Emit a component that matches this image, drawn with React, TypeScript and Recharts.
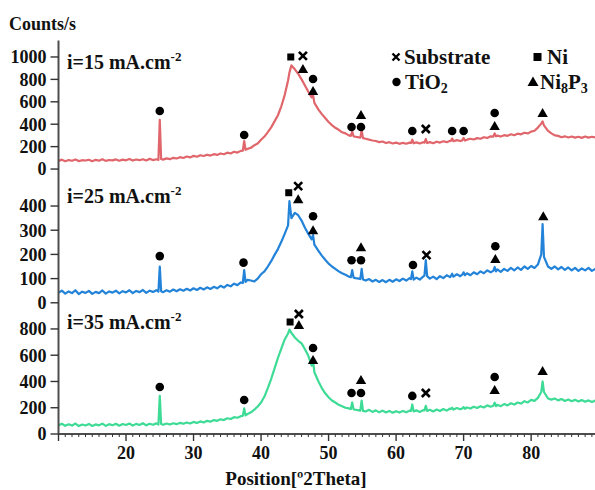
import React from 'react';
import { ComposedChart, Line, Scatter, XAxis, YAxis } from 'recharts';

const FONT = '"Liberation Serif", "Times New Roman", serif';

// 2Theta positions shared by the three patterns
const twoTheta = [
  10, 10.5, 11, 11.5, 12, 12.5, 13, 13.5, 14, 14.5, 15, 15.5, 16, 16.5, 17, 17.5, 18, 18.5, 19, 19.5, 20, 20.5, 21, 21.5, 22, 22.5, 23, 23.5, 24, 24.5,
  24.8, 25, 25.2, 25.5, 26, 26.5, 27, 27.5, 28, 28.5, 29, 29.5, 30, 30.5, 31, 31.5, 32, 32.5, 33, 33.5, 34, 34.5, 35, 35.5, 36, 36.5, 37,
  37.3, 37.5, 37.7, 38, 38.5, 39, 39.5, 40, 40.5, 41, 41.5, 42, 42.5, 43, 43.5, 44, 44.2, 44.5, 45, 45.5, 46, 46.5, 47, 47.5, 47.7, 47.9, 48.5, 49, 49.5, 50,
  50.5, 51, 51.5, 52, 52.5, 53, 53.3, 53.5, 53.7, 54, 54.5, 54.7, 54.9, 55.1, 55.5, 56, 56.5, 57, 57.5, 58, 58.5, 59, 59.5, 60, 60.5, 61, 61.5, 62, 62.2, 62.4, 62.6, 63,
  63.5, 64, 64.2, 64.4, 64.6, 65, 65.5, 66, 66.5, 67, 67.5, 68, 68.1, 68.3, 68.5, 69, 69.5, 69.8, 70, 70.2, 70.5, 71, 71.5, 72, 72.5, 73, 73.5, 74, 74.4, 74.6, 74.8, 75,
  75.5, 76, 76.5, 77, 77.5, 78, 78.5, 79, 79.5, 80, 80.5, 81, 81.5, 81.7, 81.9, 82.5, 83, 83.5, 84, 84.5, 85, 85.5, 86, 86.5, 87, 87.5, 88, 88.5, 89, 89.5, 90,
];

// i = 15 mA.cm-2
const counts15 = [
  72, 84, 70, 80, 74, 86, 71, 79, 76, 83, 70, 82, 75, 88, 73, 81, 77, 86, 74, 84, 78, 90, 76, 85, 79, 88, 77, 91, 80, 87,
  82, 440, 90, 84, 95, 88, 100, 94, 106, 99, 112, 104, 118, 110, 123, 116, 128, 120, 133, 126, 139, 132, 146, 139, 154, 147, 162,
  165, 250, 172, 180, 190, 212, 228, 262, 290, 330, 372, 425, 480, 560, 660, 790, 860, 925, 890, 850, 800, 745, 690, 640, 660, 590, 530, 490, 455, 420,
  392, 368, 350, 328, 318, 300, 296, 335, 292, 288, 282, 280, 345, 276, 270, 262, 255, 250, 240, 246, 232, 240, 228, 236, 225, 234, 226, 236, 232, 262, 230, 238,
  228, 240, 235, 268, 232, 240, 230, 244, 236, 248, 240, 252, 250, 272, 248, 258, 250, 256, 278, 254, 262, 270, 264, 276, 270, 284, 278, 292, 290, 318, 292, 298,
  290, 302, 296, 310, 302, 316, 310, 324, 318, 334, 342, 370, 405, 425, 390, 340, 318, 300, 296, 284, 292, 282, 290, 280, 288, 278, 290, 280, 288, 282, 286,
];

// i = 25 mA.cm-2
const counts25 = [
  42, 50, 38, 47, 40, 52, 36, 46, 41, 49, 37, 45, 40, 51, 38, 47, 42, 50, 39, 48, 43, 52, 40, 49, 44, 53, 41, 50, 45, 52,
  46, 150, 48, 44, 52, 46, 55, 48, 56, 50, 58, 51, 60, 53, 62, 55, 64, 57, 66, 60, 70, 63, 74, 68, 79, 73, 84,
  82, 135, 86, 95, 92, 88, 100, 118, 130, 150, 172, 198, 222, 252, 285, 320, 420, 350, 372, 362, 340, 310, 285, 262, 280, 240, 215, 195, 178, 162,
  150, 140, 130, 122, 116, 108, 106, 135, 104, 102, 100, 98, 140, 96, 92, 98, 88, 95, 86, 94, 85, 95, 87, 97, 90, 100, 92, 102, 98, 130, 96, 104,
  96, 108, 112, 176, 110, 100, 108, 98, 110, 102, 114, 106, 110, 120, 108, 118, 110, 116, 126, 114, 122, 114, 126, 118, 130, 122, 134, 126, 132, 148, 130, 138,
  128, 140, 132, 144, 134, 146, 136, 150, 140, 152, 144, 158, 200, 325, 190, 150, 140, 150, 138, 148, 136, 146, 134, 144, 132, 142, 134, 144, 132, 140, 134,
];

// i = 35 mA.cm-2
const counts35 = [
  66, 78, 62, 74, 64, 80, 60, 72, 65, 77, 61, 73, 66, 79, 62, 75, 67, 78, 63, 76, 68, 80, 64, 77, 69, 82, 66, 78, 70, 81,
  72, 290, 76, 70, 80, 72, 82, 75, 85, 78, 88, 80, 92, 84, 96, 88, 100, 94, 106, 100, 112, 106, 120, 114, 128, 124, 136,
  138, 195, 142, 152, 165, 185, 210, 240, 285, 350, 420, 500, 580, 650, 720, 765, 795, 770, 735, 710, 690, 645, 595, 520, 560, 470, 400, 350, 310, 280,
  255, 240, 222, 212, 200, 195, 190, 240, 188, 185, 180, 178, 255, 176, 172, 184, 168, 180, 165, 178, 164, 176, 162, 174, 163, 176, 165, 178, 175, 225, 172, 180,
  168, 182, 180, 215, 176, 184, 172, 186, 175, 190, 178, 194, 190, 200, 186, 198, 188, 194, 205, 192, 202, 194, 208, 198, 212, 202, 218, 208, 215, 238, 212, 222,
  212, 228, 218, 234, 224, 240, 232, 250, 240, 260, 252, 275, 320, 400, 320, 270, 262, 270, 256, 266, 252, 262, 250, 260, 248, 258, 246, 256, 244, 254, 246,
];

// phase markers: position, height in counts, phase
const markers15 = [
  { theta: 25.0, counts: 518, kind: 'tio2' },
  { theta: 37.5, counts: 304, kind: 'tio2' },
  { theta: 44.4, counts: 1000, kind: 'ni' },
  { theta: 46.2, counts: 1010, kind: 'sub' },
  { theta: 46.2, counts: 893, kind: 'ni8p3' },
  { theta: 47.7, counts: 804, kind: 'tio2' },
  { theta: 47.7, counts: 696, kind: 'ni8p3' },
  { theta: 53.4, counts: 375, kind: 'tio2' },
  { theta: 54.8, counts: 375, kind: 'tio2' },
  { theta: 54.8, counts: 482, kind: 'ni8p3' },
  { theta: 62.4, counts: 339, kind: 'tio2' },
  { theta: 64.4, counts: 357, kind: 'sub' },
  { theta: 68.3, counts: 339, kind: 'tio2' },
  { theta: 70.0, counts: 339, kind: 'tio2' },
  { theta: 74.6, counts: 500, kind: 'tio2' },
  { theta: 74.6, counts: 384, kind: 'ni8p3' },
  { theta: 81.7, counts: 500, kind: 'ni8p3' },
];

const markers25 = [
  { theta: 25.0, counts: 193, kind: 'tio2' },
  { theta: 37.4, counts: 166, kind: 'tio2' },
  { theta: 44.1, counts: 455, kind: 'ni' },
  { theta: 45.5, counts: 482, kind: 'sub' },
  { theta: 45.5, counts: 428, kind: 'ni8p3' },
  { theta: 47.7, counts: 358, kind: 'tio2' },
  { theta: 47.7, counts: 300, kind: 'ni8p3' },
  { theta: 53.4, counts: 176, kind: 'tio2' },
  { theta: 54.8, counts: 176, kind: 'tio2' },
  { theta: 54.8, counts: 230, kind: 'ni8p3' },
  { theta: 62.5, counts: 156, kind: 'tio2' },
  { theta: 64.5, counts: 197, kind: 'sub' },
  { theta: 74.7, counts: 234, kind: 'tio2' },
  { theta: 74.7, counts: 181, kind: 'ni8p3' },
  { theta: 81.8, counts: 358, kind: 'ni8p3' },
];

const markers35 = [
  { theta: 25.0, counts: 358, kind: 'tio2' },
  { theta: 37.5, counts: 259, kind: 'tio2' },
  { theta: 44.3, counts: 853, kind: 'ni' },
  { theta: 45.6, counts: 914, kind: 'sub' },
  { theta: 45.6, counts: 830, kind: 'ni8p3' },
  { theta: 47.7, counts: 655, kind: 'tio2' },
  { theta: 47.7, counts: 564, kind: 'ni8p3' },
  { theta: 53.4, counts: 312, kind: 'tio2' },
  { theta: 54.8, counts: 312, kind: 'tio2' },
  { theta: 54.8, counts: 411, kind: 'ni8p3' },
  { theta: 62.4, counts: 290, kind: 'tio2' },
  { theta: 64.4, counts: 312, kind: 'sub' },
  { theta: 74.6, counts: 434, kind: 'tio2' },
  { theta: 74.6, counts: 335, kind: 'ni8p3' },
  { theta: 81.7, counts: 480, kind: 'ni8p3' },
];

const xTicks = Array.from({ length: 81 }, (_, i) => 10 + i);

const PhaseMark = (props: any) => {
  const { cx, cy, payload } = props;
  if (payload.kind === 'ni') {
    return <rect x={cx - 3.5} y={cy - 3.5} width={7} height={7} fill="#000" />;
  }
  if (payload.kind === 'tio2') {
    return <circle cx={cx} cy={cy} r={4.3} fill="#000" />;
  }
  if (payload.kind === 'ni8p3') {
    return <path d={`M${cx},${cy - 5} L${cx + 5.2},${cy + 4} L${cx - 5.2},${cy + 4} Z`} fill="#000" />;
  }
  return (
    <path
      d={`M${cx - 4},${cy - 4} L${cx + 4},${cy + 4} M${cx + 4},${cy - 4} L${cx - 4},${cy + 4}`}
      stroke="#000"
      strokeWidth={2.6}
    />
  );
};

const ThetaTick = (props: any) => {
  const { x, y, payload } = props;
  const major = payload.value % 10 === 0;
  return (
    <g>
      <line x1={x} x2={x} y1={y} y2={y + (major ? 7 : 3)} stroke="#333" strokeWidth={major ? 1.4 : 1} />
      {major && payload.value >= 20 && payload.value <= 80 && (
        <text x={x} y={y + 25} textAnchor="middle" fontFamily={FONT} fontWeight={700} fontSize={18} fill="#111">
          {payload.value}
        </text>
      )}
    </g>
  );
};

interface PanelProps {
  counts: number[];
  color: string;
  markers: { theta: number; counts: number; kind: string }[];
  domain: [number, number];
  ticks: number[];
  top: number;
  bottom: number;
  last?: boolean;
}

const frame = { stroke: '#4d4d4d', strokeWidth: 2 };

const Panel = ({ counts, color, markers, domain, ticks, top, bottom, last }: PanelProps) => {
  const rows = twoTheta.map((t, i) => ({ theta: t, counts: counts[i] }));
  return (
    <div style={{ position: 'absolute', left: 0, top: 0 }}>
      <ComposedChart width={600} height={490} data={rows} margin={{ top, right: 0, bottom, left: 0 }}>
        <XAxis
          xAxisId="b"
          dataKey="theta"
          type="number"
          domain={[10, 90.2]}
          allowDataOverflow
          ticks={last ? xTicks : []}
          interval={0}
          tick={last ? <ThetaTick /> : false}
          tickLine={false}
          tickSize={0}
          tickMargin={0}
          height={last ? 30 : 0}
          axisLine={frame}
        />
        <XAxis
          xAxisId="t"
          orientation="top"
          dataKey="theta"
          type="number"
          domain={[10, 90.2]}
          allowDataOverflow
          tick={false}
          tickLine={false}
          height={0}
          axisLine={frame}
        />
        <YAxis
          type="number"
          domain={domain}
          allowDataOverflow
          ticks={ticks}
          interval={0}
          width={58.5}
          tickSize={8}
          tickMargin={4}
          tickLine={{ stroke: '#333', strokeWidth: 1.4 }}
          axisLine={frame}
          tick={{ fill: '#111', fontSize: 18, fontWeight: 700, fontFamily: FONT }}
        />
        <Line
          xAxisId="b"
          dataKey="counts"
          stroke={color}
          strokeWidth={2.2}
          strokeLinejoin="round"
          dot={false}
          activeDot={false}
          isAnimationActive={false}
        />
        <Scatter
          xAxisId="b"
          data={markers}
          dataKey="counts"
          shape={<PhaseMark />}
          isAnimationActive={false}
        />
      </ComposedChart>
    </div>
  );
};

const txt = { fontFamily: FONT, fontWeight: 700, fill: '#111' } as const;

export default function App() {
  return (
    <div style={{ position: 'absolute', left: 0, top: 0, width: 595, height: 490, overflow: 'hidden', background: '#fff' }}>
      <Panel counts={counts15} color="#e0666b" markers={markers15} domain={[-71, 1147]} ticks={[0, 200, 400, 600, 800, 1000]} top={40.5} bottom={313} />
      <Panel counts={counts25} color="#2283d8" markers={markers25} domain={[-5, 520]} ticks={[0, 100, 200, 300, 400]} top={177} bottom={186} />
      <Panel counts={counts35} color="#3ddb95" markers={markers35} domain={[0, 990]} ticks={[0, 200, 400, 600, 800]} top={304} bottom={26} last />
      <svg width={595} height={490} style={{ position: 'absolute', left: 0, top: 0, pointerEvents: 'none' }}>
        <text x={9} y={30} fontSize={18} {...txt}>Counts/s</text>

        <text x={67} y={69} fontSize={20} {...txt}>
          i=15 mA.cm<tspan fontSize={13} dy={-8}>-2</tspan>
        </text>
        <text x={67} y={203} fontSize={20} {...txt}>
          i=25 mA.cm<tspan fontSize={13} dy={-8}>-2</tspan>
        </text>
        <text x={67} y={329} fontSize={20} {...txt}>
          i=35 mA.cm<tspan fontSize={13} dy={-8}>-2</tspan>
        </text>

        <path d="M392.5,53.5 L399.5,60.5 M399.5,53.5 L392.5,60.5" stroke="#000" strokeWidth={2.4} />
        <text x={404} y={64} fontSize={21} {...txt}>Substrate</text>
        <rect x={533.5} y={53} width={8} height={8} fill="#000" />
        <text x={547} y={64} fontSize={21} {...txt}>Ni</text>
        <circle cx={396.5} cy={82} r={4.2} fill="#000" />
        <text x={405} y={89} fontSize={21} {...txt}>
          TiO<tspan fontSize={14} dy={4}>2</tspan>
        </text>
        <path d="M533,76.5 L538.5,86 L527.5,86 Z" fill="#000" />
        <text x={540} y={89} fontSize={21} {...txt}>
          Ni<tspan fontSize={14} dy={4}>8</tspan>
          <tspan dy={-4}>P</tspan>
          <tspan fontSize={14} dy={4}>3</tspan>
        </text>

        <text x={296} y={485} fontSize={19} textAnchor="middle" {...txt}>Position[º2Theta]</text>
      </svg>
    </div>
  );
}
